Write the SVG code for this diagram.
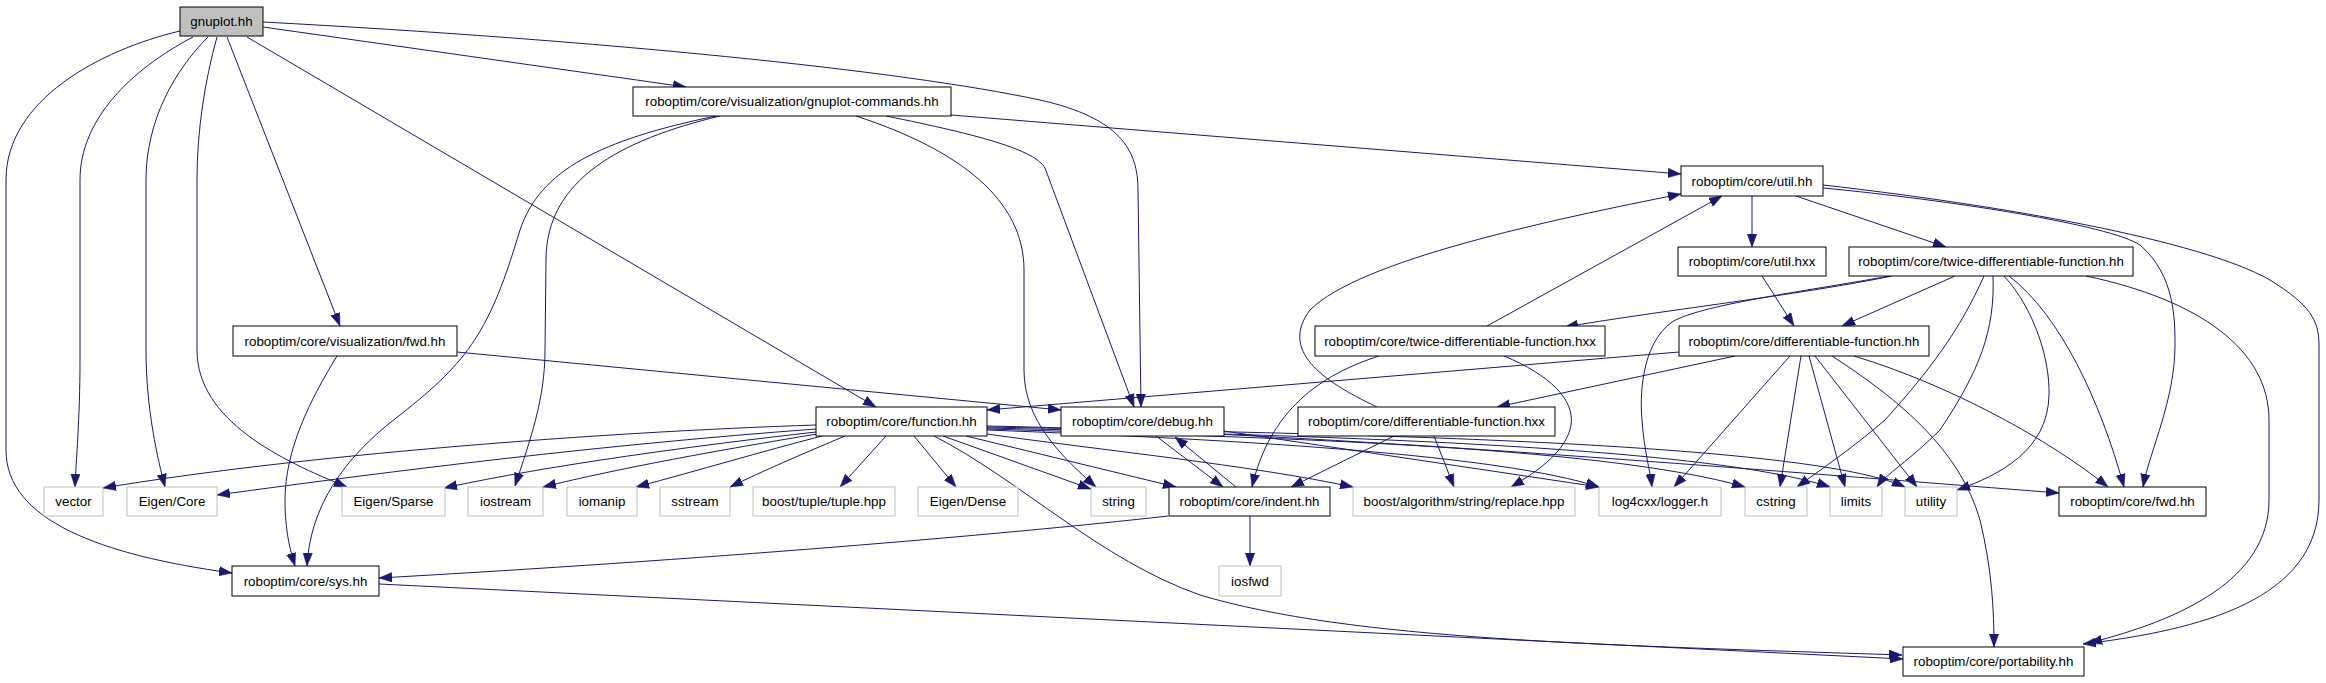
<svg xmlns="http://www.w3.org/2000/svg" width="2326" height="683" viewBox="0 0 2326 683">
<style>
.n rect{fill:#fff;stroke:#000;stroke-width:1}
.x rect{fill:#fff;stroke:#bfbfbf;stroke-width:1}
.g rect{fill:#bfbfbf;stroke:#000;stroke-width:1}
text{font-family:"Liberation Sans",Arial,Helvetica,sans-serif;font-size:13.33px;fill:#000;text-anchor:middle}
#edges path{fill:none;stroke:#191970;stroke-width:1;marker-end:url(#ah)}
</style>
<defs>
<marker id="ah" viewBox="0 0 13 10" refX="13" refY="5" markerWidth="13" markerHeight="10" markerUnits="userSpaceOnUse" orient="auto">
<path d="M0,0.3 L13,5 L0,9.7 z" fill="#191970" stroke="#191970" stroke-width="0.5"/>
</marker>
</defs>
<rect width="2326" height="683" fill="#fff"/>
<g id="edges">
<path d="M180,31 C100,50 6,100 6,180 L6,450 C6,520 100,555 232,573"/>
<path d="M193,37 C130,70 80,120 80,180 L80,360 C80,420 76,460 75,487"/>
<path d="M208,37 C175,70 146,120 146,180 L146,350 C146,410 158,460 165,487"/>
<path d="M217,37 C205,80 197,130 197,180 L197,350 C197,420 280,460 347,487"/>
<path d="M227,37 L340,326"/>
<path d="M247,37 L876,407"/>
<path d="M263,27 L686,87"/>
<path d="M263,22 C600,40 900,70 1040,100 C1120,118 1138,150 1138,190 L1141,407"/>
<path d="M951,115 L1681,174"/>
<path d="M716,116 C600,140 540,170 520,230 C490,330 470,360 400,415 C340,460 310,510 307,566"/>
<path d="M720,116 C620,140 546,180 546,260 L545,350 C545,400 530,440 515,486"/>
<path d="M856,116 C960,150 1024,200 1024,270 L1024,370 C1024,420 1060,455 1096,487"/>
<path d="M886,116 C980,135 1035,150 1045,168 L1134,407"/>
<path d="M337,356 C310,400 285,450 285,500 C285,530 290,550 295,566"/>
<path d="M457,352 L1061,410"/>
<path d="M816,425 C600,432 300,455 103,488"/>
<path d="M816,429 C600,445 400,470 217,495"/>
<path d="M816,432 C700,445 550,465 444,488"/>
<path d="M817,434 C720,450 620,468 543,487"/>
<path d="M822,436 C760,452 700,470 636,487"/>
<path d="M845,436 C800,455 765,470 730,487"/>
<path d="M886,436 L840,487"/>
<path d="M914,436 L956,487"/>
<path d="M943,436 L1091,489"/>
<path d="M966,436 L1176,487"/>
<path d="M934,436 C1020,480 1100,560 1200,595 C1350,640 1600,645 1902,655"/>
<path d="M987,434 C1100,450 1250,465 1353,487"/>
<path d="M987,430 C1250,440 1500,455 1599,487"/>
<path d="M987,429 C1250,437 1600,445 1745,487"/>
<path d="M987,428 C1300,435 1700,445 1830,487"/>
<path d="M987,427 C1300,433 1800,440 1905,487"/>
<path d="M987,426 C1300,432 1700,465 2059,493"/>
<path d="M1156,436 L1223,487"/>
<path d="M1236,487 L1175,437"/>
<path d="M1224,431 L1599,487"/>
<path d="M1250,516 L1250,566"/>
<path d="M1168,516 C1000,535 700,560 379,578"/>
<path d="M379,584 L1903,659"/>
<path d="M1752,196 L1752,247"/>
<path d="M1796,196 L1946,247"/>
<path d="M1823,188 C1950,200 2110,225 2140,245 C2175,275 2175,320 2175,345 C2175,400 2150,450 2143,487"/>
<path d="M1823,185 C2000,205 2200,240 2270,280 C2310,305 2319,320 2319,345 L2319,500 C2319,600 2200,630 2083,644"/>
<path d="M1892,276 C1800,295 1650,312 1565,327"/>
<path d="M1955,276 L1842,326"/>
<path d="M1890,276 C1800,292 1700,305 1672,322 C1640,345 1640,400 1642,420 C1644,450 1650,470 1652,487"/>
<path d="M1984,276 C1960,330 1930,370 1885,420 C1850,450 1820,470 1797,487"/>
<path d="M1993,276 C1995,330 1980,370 1940,430 C1910,460 1885,475 1877,487"/>
<path d="M2004,276 C2035,310 2050,360 2049,395 C2048,450 2000,475 1957,490"/>
<path d="M2009,276 C2060,315 2100,400 2124,487"/>
<path d="M2086,276 C2200,300 2269,350 2269,420 L2269,500 C2269,580 2180,620 2089,643"/>
<path d="M1762,276 L1794,326"/>
<path d="M1679,352 L987,410"/>
<path d="M1735,356 L1497,407"/>
<path d="M1790,356 L1674,487"/>
<path d="M1801,356 L1780,487"/>
<path d="M1809,356 L1845,487"/>
<path d="M1815,356 L1917,487"/>
<path d="M1832,356 C1900,400 1960,450 1980,520 C1992,570 1994,610 1994,647"/>
<path d="M1854,356 C1950,385 2050,440 2108,487"/>
<path d="M1377,407 C1320,380 1280,350 1310,310 C1360,260 1550,220 1681,194"/>
<path d="M1394,436 L1291,487"/>
<path d="M1434,436 L1454,487"/>
<path d="M1487,326 L1722,196"/>
<path d="M1379,356 C1320,375 1270,410 1252,487"/>
<path d="M1504,356 C1550,375 1575,400 1571,425 C1567,450 1540,470 1511,487"/>
</g>
<g id="gnuplot" class="g"><rect x="180" y="7" width="83" height="29"/><text x="221.5" y="26">gnuplot.hh</text></g>
<g id="gnuplot-commands" class="n"><rect x="633" y="87" width="318" height="29"/><text x="792" y="106">roboptim/core/visualization/gnuplot-commands.hh</text></g>
<g id="viz-fwd" class="n"><rect x="233" y="326" width="224" height="30"/><text x="345" y="345.5">roboptim/core/visualization/fwd.hh</text></g>
<g id="function" class="n"><rect x="816" y="407" width="171" height="29"/><text x="901.5" y="426">roboptim/core/function.hh</text></g>
<g id="debug" class="n"><rect x="1061" y="407" width="163" height="29"/><text x="1142.5" y="426">roboptim/core/debug.hh</text></g>
<g id="sys" class="n"><rect x="232" y="566" width="147" height="30"/><text x="305.5" y="585.5">roboptim/core/sys.hh</text></g>
<g id="indent" class="n"><rect x="1169" y="487" width="161" height="29"/><text x="1249.5" y="506">roboptim/core/indent.hh</text></g>
<g id="iosfwd" class="x"><rect x="1219" y="566" width="62" height="30"/><text x="1250" y="585.5">iosfwd</text></g>
<g id="vector" class="x"><rect x="44" y="487" width="59" height="29"/><text x="73.5" y="506">vector</text></g>
<g id="eigen-core" class="x"><rect x="127" y="487" width="90" height="29"/><text x="172" y="506">Eigen/Core</text></g>
<g id="eigen-sparse" class="x"><rect x="342" y="487" width="103" height="29"/><text x="393.5" y="506">Eigen/Sparse</text></g>
<g id="iostream" class="x"><rect x="468" y="487" width="75" height="29"/><text x="505.5" y="506">iostream</text></g>
<g id="iomanip" class="x"><rect x="567" y="487" width="70" height="29"/><text x="602" y="506">iomanip</text></g>
<g id="sstream" class="x"><rect x="660" y="487" width="70" height="29"/><text x="695" y="506">sstream</text></g>
<g id="tuple" class="x"><rect x="753" y="487" width="142" height="29"/><text x="824" y="506">boost/tuple/tuple.hpp</text></g>
<g id="eigen-dense" class="x"><rect x="918" y="487" width="100" height="29"/><text x="968" y="506">Eigen/Dense</text></g>
<g id="string" class="x"><rect x="1091" y="487" width="55" height="29"/><text x="1118.5" y="506">string</text></g>
<g id="replace" class="x"><rect x="1353" y="487" width="222" height="29"/><text x="1464" y="506">boost/algorithm/string/replace.hpp</text></g>
<g id="log4cxx" class="x"><rect x="1599" y="487" width="122" height="29"/><text x="1660" y="506">log4cxx/logger.h</text></g>
<g id="cstring" class="x"><rect x="1745" y="487" width="62" height="29"/><text x="1776" y="506">cstring</text></g>
<g id="limits" class="x"><rect x="1830" y="487" width="52" height="29"/><text x="1856" y="506">limits</text></g>
<g id="utility" class="x"><rect x="1905" y="487" width="52" height="29"/><text x="1931" y="506">utility</text></g>
<g id="fwd" class="n"><rect x="2059" y="487" width="147" height="29"/><text x="2132.5" y="506">roboptim/core/fwd.hh</text></g>
<g id="portability" class="n"><rect x="1903" y="647" width="181" height="29"/><text x="1993.5" y="666">roboptim/core/portability.hh</text></g>
<g id="util-hh" class="n"><rect x="1681" y="166" width="142" height="30"/><text x="1752" y="185.5">roboptim/core/util.hh</text></g>
<g id="util-hxx" class="n"><rect x="1678" y="247" width="148" height="29"/><text x="1752" y="266">roboptim/core/util.hxx</text></g>
<g id="twice-hh" class="n"><rect x="1849" y="247" width="284" height="29"/><text x="1991" y="266">roboptim/core/twice-differentiable-function.hh</text></g>
<g id="diff-hh" class="n"><rect x="1679" y="326" width="250" height="30"/><text x="1804" y="345.5">roboptim/core/differentiable-function.hh</text></g>
<g id="twice-hxx" class="n"><rect x="1315" y="326" width="290" height="30"/><text x="1460" y="345.5">roboptim/core/twice-differentiable-function.hxx</text></g>
<g id="diff-hxx" class="n"><rect x="1298" y="407" width="257" height="29"/><text x="1426.5" y="426">roboptim/core/differentiable-function.hxx</text></g>
</svg>
